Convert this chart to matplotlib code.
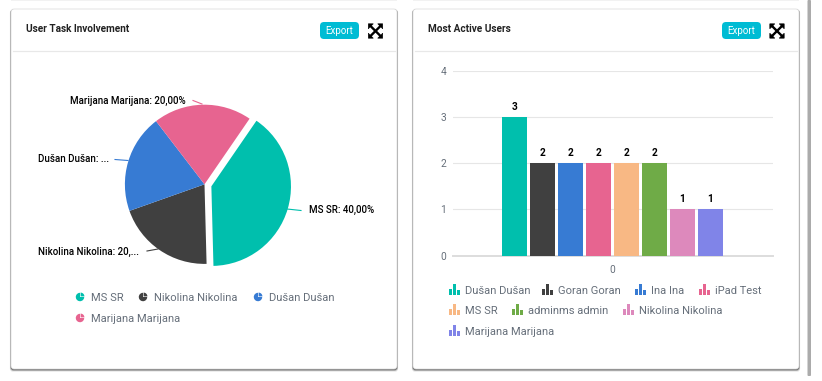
import matplotlib
matplotlib.use("Agg")
import matplotlib.pyplot as plt
from matplotlib.patches import FancyBboxPatch, Rectangle, Wedge, Polygon

plt.rcParams['font.family'] = ['Roboto', 'DejaVu Sans']

W, H = 822, 381

# data
pie_names = ["MS SR", "Nikolina Nikolina", "Dušan Dušan", "Marijana Marijana"]
pie_values = [40, 20, 20, 20]
pie_colors = ["#00BFAD", "#404040", "#377BD3", "#E76490"]
pie_labels = ["MS SR: 40,00%", "Nikolina Nikolina: 20,...", "Dušan Dušan: ...", "Marijana Marijana: 20,00%"]

bar_names = ["Dušan Dušan", "Goran Goran", "Ina Ina", "iPad Test", "MS SR",
             "adminms admin", "Nikolina Nikolina", "Marijana Marijana"]
bar_values = [3, 2, 2, 2, 2, 2, 1, 1]
bar_colors = ["#00BFAD", "#404040", "#377BD3", "#E76490", "#F8B884",
              "#6FAB47", "#DD89BC", "#8084E8"]
y_ticks = [0, 1, 2, 3, 4]

fig = plt.figure(figsize=(W / 100, H / 100), dpi=100, facecolor="white")


def pixax(x0, y0, x1, y1):
    # axes from pixel box, y counted from the top
    return fig.add_axes([x0 / W, 1 - y1 / H, (x1 - x0) / W, (y1 - y0) / H])


bg = pixax(0, 0, W, H)
bg.set_xlim(0, W)
bg.set_ylim(H, 0)
bg.axis("off")


def card(x0, x1, y0=9, y1=369):
    for d, a in [(2.2, 0.15), (1.4, 0.35), (0.7, 0.7)]:
        bg.add_patch(FancyBboxPatch((x0 - d * 0.5, y0 + 0.5), x1 - x0 + d, y1 - y0 + d,
                                    boxstyle="round,pad=0,rounding_size=3", fc="#555555",
                                    ec="none", alpha=a))
    bg.add_patch(FancyBboxPatch((x0, y0), x1 - x0, y1 - y0, boxstyle="round,pad=0,rounding_size=3",
                                fc="white", ec="#d8d8d8", lw=0.5))
    bg.plot([x0 + 2, x1 - 2], [50.5, 50.5], color="#e8e8e8", lw=0.9)


def export_btn(x):
    bg.add_patch(FancyBboxPatch((x, 22), 39, 17, boxstyle="round,pad=0,rounding_size=4",
                                fc="#00BCD4", ec="none"))
    bg.text(x + 19.5, 30.5, "Export", color="white", fontsize=7.0, ha="center", va="center")


def expand_icon(cx, cy):
    r = 7.2
    for sx in (-1, 1):
        for sy in (-1, 1):
            bg.plot([cx, cx + sx * r * 0.8], [cy, cy + sy * r * 0.8], color="black", lw=1.7,
                    solid_capstyle="butt")
            bg.add_patch(Polygon([(cx + sx * r, cy + sy * r), (cx + sx * (r - 5), cy + sy * r),
                                  (cx + sx * r, cy + sy * (r - 5))], fc="black", ec="black", lw=0.4))


def pie_icon(x, y, c):
    bg.add_patch(Wedge((x, y), 4.2, 0, 270, fc=c, ec="none"))
    bg.add_patch(Wedge((x + 0.6, y - 0.6), 3.8, 270, 360, fc=c, ec="none"))


def bar_icon(x, y, c):
    bg.add_patch(Rectangle((x, y - 1), 3.1, 6, fc=c, ec="none"))
    bg.add_patch(Rectangle((x + 3.9, y - 6), 3.1, 11, fc=c, ec="none"))
    bg.add_patch(Rectangle((x + 7.8, y - 0.5), 3.1, 5.5, fc=c, ec="none"))


# page bits
bg.add_patch(Rectangle((11, 0), 386, 1, fc="#f2f2f2", ec="none"))
bg.add_patch(Rectangle((413, 0), 386, 1, fc="#f2f2f2", ec="none"))
bg.add_patch(FancyBboxPatch((807.5, 0), 3.5, 376, boxstyle="round,pad=0,rounding_size=1",
                            fc="#ababab", ec="none"))

card(11, 397)
card(413, 799)
export_btn(320)
export_btn(722)
expand_icon(375.5, 31)
expand_icon(777, 31)
bg.text(26, 28.5, "User Task Involvement", fontsize=7.2, fontweight="bold", color="#222222", va="center")
bg.text(428, 28.5, "Most Active Users", fontsize=7.2, fontweight="bold", color="#222222", va="center")

# pie
ax = pixax(105, 84.8, 304, 283.8)
ax.pie(pie_values, colors=pie_colors, startangle=55.5, counterclock=False,
       explode=[0.09, 0, 0, 0], radius=1, wedgeprops={"ec": "none"})
ax.set_xlim(-1.25, 1.25)
ax.set_ylim(-1.25, 1.25)
ax.patch.set_alpha(0)

label_pos = [(309, 210), (38, 251.5), (38, 159), (70, 101)]
leader = [((287, 209), (301, 210.5)), ((158, 249), (147, 251)),
          ((128, 160.5), (115, 159.5)), ((202, 104), (193, 100.5))]
for t, p, l, c in zip(pie_labels, label_pos, leader, pie_colors):
    bg.text(p[0], p[1], t, fontsize=7.0, color="black", va="center", fontweight="medium")
    bg.plot([l[0][0], l[1][0]], [l[0][1], l[1][1]], color=c, lw=0.8)

pie_leg = [(80, 91, 297), (143, 154, 297), (258, 268.5, 297), (80, 91, 318)]
for n, c, p in zip(pie_names, pie_colors, pie_leg):
    pie_icon(p[0], p[2], c)
    bg.text(p[1], p[2] + 0.7, n, fontsize=8.0, color="#666F7A", va="center")

# bars
ax2 = pixax(452.5, 71, 772.5, 255.5)
ax2.patch.set_alpha(0)
step = 28 / 320
for i, (v, c) in enumerate(zip(bar_values, bar_colors)):
    xp = (i - 3.5) * step
    ax2.bar(xp, v, width=25.3 / 320, color=c, zorder=3)
    ax2.text(xp, v + 0.217, str(v), ha="center", va="center", fontsize=7.3, color="black",
             fontweight="bold")
ax2.set_xlim(-0.5, 0.5)
ax2.set_ylim(0, 4)
ax2.set_yticks(y_ticks)
ax2.set_xticks([0])
ax2.tick_params(length=0, labelsize=7.3, labelcolor="#666F7A")
ax2.tick_params(axis="y", pad=4.5)
ax2.tick_params(axis="x", pad=7)
ax2.grid(axis="y", color="#e6e6e6", lw=0.8, zorder=0)
for s in ["top", "left", "right"]:
    ax2.spines[s].set_visible(False)
ax2.spines["bottom"].set_color("#dddddd")
ax2.spines["bottom"].set_linewidth(1.4)

bar_leg = [(449, 464.7, 290), (542.3, 558.3, 290), (635, 651, 290), (699, 715, 290),
           (449, 464.7, 310), (512, 527.7, 310), (623, 639, 310), (449, 464.7, 331)]
for n, c, p in zip(bar_names, bar_colors, bar_leg):
    bar_icon(p[0], p[2], c)
    bg.text(p[1], p[2] + 1, n, fontsize=8.0, color="#666F7A", va="center")

fig.savefig("out.png", dpi=100)
